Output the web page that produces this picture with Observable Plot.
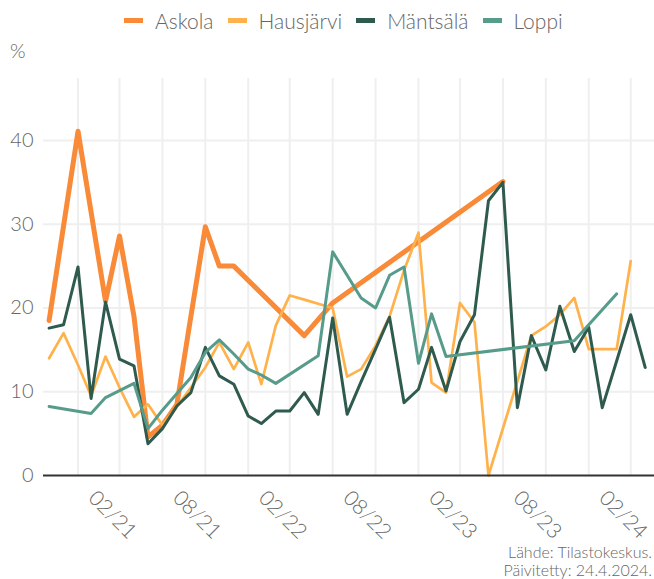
<!DOCTYPE html>
<html><head><meta charset="utf-8">
<script src="https://cdn.jsdelivr.net/npm/d3@7"></script>
<script src="https://cdn.jsdelivr.net/npm/@observablehq/plot@0.6"></script>
<style>
body{margin:0;background:#fff;font-family:Lato,"Open Sans",sans-serif;font-weight:300;color:#666;}
#wrap{position:relative;width:654px;height:579px;overflow:hidden}
#legend{position:absolute;left:124px;top:0;height:40px;display:flex;align-items:center;font-size:21px;white-space:nowrap}
.item{display:flex;align-items:center;margin-right:14px}
.sw{width:19px;height:5px;margin-right:12px}
#chart{position:absolute;left:0;top:40px}
#unit{position:absolute;left:10px;top:38px;font-size:20px;line-height:24px}
#caption{position:absolute;right:2px;top:543px;text-align:right;font-size:16px;line-height:18px}
</style></head><body>
<div id="wrap"><div id="legend"></div><div id="chart"></div><div id="unit">%</div><div id="caption">Lähde: Tilastokeskus.<br>Päivitetty: 24.4.2024.</div></div>
<script>
const months = ["2020-12",
"2021-01","2021-02","2021-03","2021-04","2021-05","2021-06","2021-07","2021-08","2021-09","2021-10","2021-11","2021-12",
"2022-01","2022-02","2022-03","2022-04","2022-05","2022-06","2022-07","2022-08","2022-09","2022-10","2022-11","2022-12",
"2023-01","2023-02","2023-03","2023-04","2023-05","2023-06","2023-07","2023-08","2023-09","2023-10","2023-11","2023-12",
"2024-01","2024-02","2024-03","2024-04","2024-05","2024-06"];
const seriesNames = ["Askola","Hausjärvi","Mäntsälä","Loppi"];
const seriesColors = ["#f88a38","#ffb24c","#2f5b4f","#579b8b"];
const seriesWidths = [5,2.7,3,3];
const askola = [18.5,null,41.1,null,20.8,28.6,19.0,4.6,6.0,8.5,19.0,29.7,25.0,25.0,null,null,null,null,16.7,null,20.6,
null,null,null,null,null,null,null,null,null,null,null,35.1,null,null,null,null,null,null,null,null,null,null];
const hausjarvi = [14.0,17.0,13.2,9.5,14.2,10.5,7.0,8.5,6.0,8.2,10.5,12.9,15.9,12.7,15.9,10.9,17.9,21.5,21.0,20.5,20.0,
11.8,12.7,15.5,19.0,24.5,29.0,11.1,9.9,20.6,18.3,0,null,null,16.7,17.8,19.2,21.2,15.1,15.1,15.1,25.6,null];
const mantsala = [17.6,18.0,24.9,9.2,20.7,13.9,13.1,3.8,5.6,8.3,9.9,15.3,11.9,10.9,7.1,6.2,7.7,7.7,9.9,7.3,
18.8,7.3,11.2,15.1,18.9,8.7,10.3,15.3,10.1,16.0,19.2,32.8,35.0,8.1,16.7,12.6,20.2,14.8,17.7,8.1,13.7,19.2,12.9];
const loppi = [8.25,null,null,7.4,9.3,null,11.0,5.6,7.8,9.8,11.7,14.7,16.2,14.5,12.7,12.0,11.0,null,null,14.3,26.7,
null,21.2,20.0,23.9,24.9,13.4,19.3,14.2,null,null,null,null,null,null,null,null,16.1,null,null,21.7,null,null];
const gridMonths = ["2021-02","2021-05","2021-08","2021-11","2022-02","2022-05","2022-08","2022-11","2023-02","2023-05","2023-08","2023-11","2024-02","2024-05"];
const tickMonths = ["2021-02","2021-08","2022-02","2022-08","2023-02","2023-08","2024-02"];
const yTicks = [0,10,20,30,40];
const yGrid = [10,20,30,40];

const parse = d3.utcParse("%Y-%m");
const allSeries = [askola, hausjarvi, mantsala, loppi];
const rows = [];
allSeries.forEach((vals, i) => vals.forEach((v, j) => {
  if (v != null) rows.push({series: seriesNames[i], date: parse(months[j]), value: v});
}));

const legend = document.getElementById("legend");
seriesNames.forEach((n, i) => {
  const it = document.createElement("div"); it.className = "item";
  it.innerHTML = `<span class="sw" style="background:${seriesColors[i]}"></span><span>${n}</span>`;
  legend.appendChild(it);
});

const chart = Plot.plot({
  width: 654, height: 505,
  marginTop: 38, marginBottom: 70, marginLeft: 43, marginRight: 0,
  style: {fontFamily: "Lato, 'Open Sans', sans-serif", fontWeight: 300, color: "#666", background: "#fff"},
  x: {type: "utc", domain: [new Date("2020-11-19"), new Date("2024-06-21")]},
  y: {domain: [0, 47.4]},
  marks: [
    Plot.gridX(gridMonths.map(parse), {stroke: "#efefef", strokeWidth: 2, strokeOpacity: 1}),
    Plot.gridY(yGrid, {stroke: "#efefef", strokeWidth: 2, strokeOpacity: 1}),
    Plot.axisY({ticks: yTicks, tickSize: 0, tickPadding: 10, fontSize: 20, label: null}),
    Plot.axisX({ticks: tickMonths.map(parse), tickFormat: d3.utcFormat("%m/%y"), tickRotate: 45, tickSize: 0, tickPadding: 0, fontSize: 21, label: null, dx: 14, dy: 19}),
    ...seriesNames.map((n, i) => Plot.line(rows.filter(r => r.series === n), {
      x: "date", y: "value", stroke: seriesColors[i], strokeWidth: seriesWidths[i], strokeLinejoin: "round", strokeLinecap: "round"
    })),
    Plot.ruleY([0], {stroke: "#333", strokeWidth: 2})
  ]
});
document.getElementById("chart").appendChild(chart);
</script>
</body></html>
